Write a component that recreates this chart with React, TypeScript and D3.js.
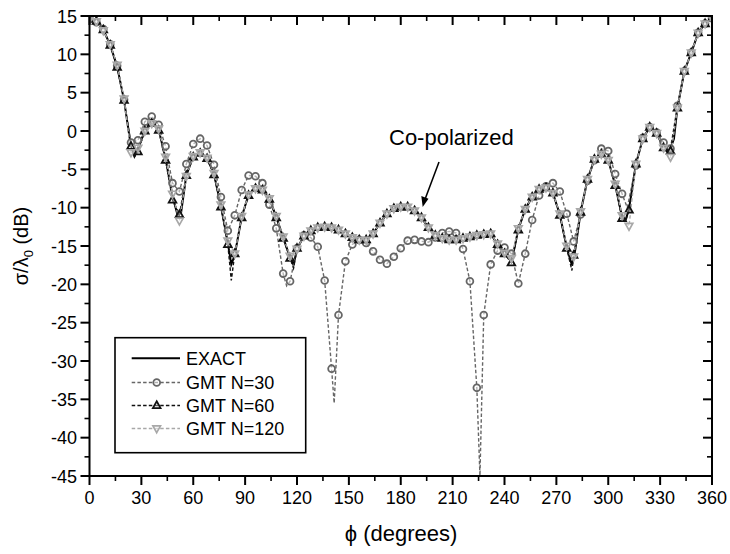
import React from "react";
import * as d3 from "d3";

// ---- data (phi in degrees, RCS in dB) ----
const EXACT_PHI = [0,4,8,12,16,20,24,26,28,32,36,40,44,48,51,53,56,60,64,68,72,76,80,82,84,88,92,96,100,104,108,112,116,118,120,124,128,132,136,140,144,148,152,156,160,164,168,172,176,180,184,188,192,196,200,204,208,212,216,220,224,228,232,236,240,244,246,248,252,256,260,264,268,272,276,279,281,284,288,292,296,300,304,308,310,312,316,320,324,328,332,335,338,340,344,348,352,356,360];
const EXACT_DB = [14.6,14.3,13.2,11.2,8.4,4.0,-2.1,-3.3,-2.4,0.1,1.0,0.2,-3.6,-8.5,-11.0,-10.6,-5.8,-3.3,-2.8,-3.6,-5.6,-9.8,-14.6,-17.4,-16.2,-11.2,-8.3,-7.5,-7.7,-8.8,-11.2,-13.9,-16.5,-17.5,-15.4,-13.7,-13.0,-12.6,-12.5,-12.6,-12.9,-13.4,-13.9,-14.2,-14.2,-13.4,-12.0,-10.8,-10.1,-9.9,-9.9,-10.4,-11.3,-12.6,-13.6,-14.0,-14.2,-14.2,-14.0,-13.8,-13.6,-13.5,-13.4,-14.8,-16.0,-17.0,-15.0,-12.8,-10.2,-8.6,-7.6,-7.4,-8.1,-10.9,-15.2,-17.5,-15.4,-10.6,-6.3,-3.7,-3.0,-3.8,-7.0,-11.2,-11.6,-10.2,-4.3,-1.0,0.5,-0.3,-2.2,-2.9,-1.0,3.0,7.8,10.2,12.8,14.0,14.7];

const N30_PHI = [0,4,8,12,16,20,24,28,32,36,40,44,48,52,56,60,64,68,72,76,80,84,88,92,96,100,104,108,112,114,116,120,124,128,132,136,140,141.5,144,148,152,156,160,164,168,172,176,180,184,188,192,196,200,204,208,212,216,220,224,225.8,228,232,236,240,244,248,252,256,260,264,268,272,276,280,284,288,292,296,300,304,308,311,316,320,324,328,332,336,340,344,348,352,356,360];
const N30_DB = [14.6,14.2,13.3,11.3,8.5,4.1,-1.5,-1.2,1.2,1.9,0.8,-2.0,-6.8,-7.9,-4.3,-1.7,-1.0,-1.9,-4.4,-8.6,-13.0,-11.0,-7.7,-5.8,-5.9,-6.8,-9.6,-12.7,-18.6,-20.2,-19.6,-15.3,-13.6,-13.9,-15.1,-19.5,-31.0,-35.5,-24.0,-17.0,-14.8,-14.2,-14.6,-15.7,-16.8,-17.3,-16.4,-15.3,-14.3,-14.2,-14.4,-14.5,-13.9,-13.3,-13.1,-13.3,-15.4,-19.6,-33.5,-45.0,-24.0,-17.4,-15.6,-15.2,-16.0,-19.9,-16.0,-11.6,-8.4,-7.2,-6.8,-7.9,-10.8,-14.4,-10.9,-6.5,-3.8,-2.3,-2.6,-5.6,-8.2,-10.0,-4.5,-0.9,0.5,-0.2,-1.5,-2.3,3.3,7.8,10.2,12.8,14.0,14.7];

const N60_PHI = [0,4,8,12,16,20,24,26,28,32,36,40,44,48,52,56,60,64,68,72,76,80,82,84,88,92,96,100,104,108,112,116,118,120,124,128,132,136,140,144,148,152,156,160,164,168,172,176,180,184,188,192,196,200,204,208,212,216,220,224,228,232,236,240,244,248,252,256,260,264,268,272,276,279,280,284,288,292,296,300,304,308,310,312,316,320,324,328,332,336,340,344,348,352,356,360];
const N60_DB = [14.6,14.3,13.2,11.2,8.3,4.0,-2.0,-3.4,-2.7,0.0,1.0,0.1,-3.8,-9.0,-10.9,-5.8,-3.4,-2.9,-3.6,-5.7,-9.9,-14.8,-19.5,-16.0,-11.3,-8.4,-7.5,-7.7,-8.9,-11.3,-14.0,-16.6,-17.9,-15.3,-13.7,-13.0,-12.6,-12.5,-12.6,-12.9,-13.4,-13.9,-14.2,-14.2,-13.4,-12.0,-10.8,-10.1,-9.9,-9.9,-10.4,-11.3,-12.6,-13.6,-14.0,-14.2,-14.2,-14.0,-13.8,-13.6,-13.5,-13.4,-14.8,-16.0,-17.2,-12.9,-10.2,-8.6,-7.6,-7.4,-8.1,-11.0,-15.3,-18.2,-16.2,-10.6,-6.3,-3.7,-3.0,-3.8,-7.1,-11.4,-11.8,-10.3,-4.3,-1.0,0.5,-0.3,-2.2,-2.6,3.0,7.8,10.2,12.8,14.0,14.7];

const N120_PHI = [0,4,8,12,16,20,24,28,32,36,40,44,48,52,56,60,64,68,72,76,80,84,88,92,96,100,104,108,112,116,120,124,128,132,136,140,144,148,152,156,160,164,168,172,176,180,184,188,192,196,200,204,208,212,216,220,224,228,232,236,240,244,248,252,256,260,264,268,272,276,280,284,288,292,296,300,304,308,312,316,320,324,328,332,336,340,344,348,352,356,360];
const N120_DB = [14.6,14.3,13.1,11.3,8.6,4.2,-2.8,-2.2,0.0,1.0,0.3,-3.4,-8.2,-11.7,-5.9,-3.3,-2.8,-3.5,-5.5,-9.6,-14.3,-16.0,-11.1,-8.3,-7.5,-7.7,-8.8,-11.1,-13.8,-16.3,-15.4,-13.7,-13.0,-12.6,-12.5,-12.6,-12.9,-13.4,-13.9,-14.2,-14.2,-13.4,-12.0,-10.8,-10.1,-9.9,-9.9,-10.4,-11.3,-12.6,-13.6,-14.0,-14.2,-14.2,-14.0,-13.8,-13.6,-13.5,-13.4,-14.7,-15.9,-16.6,-12.7,-10.2,-8.6,-7.6,-7.4,-8.1,-10.8,-15.0,-16.4,-10.5,-6.3,-3.7,-3.0,-3.8,-6.9,-11.0,-12.4,-4.3,-1.0,0.5,-0.3,-2.2,-3.4,3.0,7.8,10.2,12.8,14.0,14.7];

const X_TICKS = [0,30,60,90,120,150,180,210,240,270,300,330,360];
const Y_TICKS = [15,10,5,0,-5,-10,-15,-20,-25,-30,-35,-40,-45];
const LEGEND_LABELS = ["EXACT", "GMT N=30", "GMT N=60", "GMT N=120"];

const W = 730, H = 554;
const FONT = "'Liberation Sans', Arial, Helvetica, sans-serif";

const x = d3.scaleLinear().domain([0, 360]).range([89.5, 712]);
const y = d3.scaleLinear().domain([-45, 15]).range([476, 16]);

type Pt = [number, number];
const zip = (a: number[], b: number[]): Pt[] => a.map((v, i) => [v, b[i]]);
const line = d3.line<Pt>().x(d => x(d[0])).y(d => y(d[1]));

const circleMark = (cx: number, cy: number, k: string, color: string) => (
  <circle key={k} cx={cx} cy={cy} r={3.4} fill="white" fillOpacity={0.5} stroke={color} strokeWidth={1.8} />
);
const triUp = (cx: number, cy: number, k: string, color: string) => (
  <path key={k} d={`M${cx},${cy - 4.2}L${cx + 3.8},${cy + 2.6}L${cx - 3.8},${cy + 2.6}Z`} fill="white" fillOpacity={0.35} stroke={color} strokeWidth={1.8} />
);
const triDown = (cx: number, cy: number, k: string, color: string) => (
  <path key={k} d={`M${cx},${cy + 4.2}L${cx + 3.8},${cy - 2.6}L${cx - 3.8},${cy - 2.6}Z`} fill="white" fillOpacity={0.5} stroke={color} strokeWidth={1.7} />
);

export default function App() {
  const exact = zip(EXACT_PHI, EXACT_DB);
  const n30 = zip(N30_PHI, N30_DB);
  const n60 = zip(N60_PHI, N60_DB);
  const n120 = zip(N120_PHI, N120_DB);
  const isMark = (d: Pt) => d[0] % 4 === 0;

  const c30 = "#666666", c60 = "#111111", c120 = "#a8a8a8";
  const dash = "3.5,2.2";

  const xMinor = d3.range(15, 360, 30);
  const yMinor = d3.range(-42.5, 15, 5);

  const lx0 = 131.7, lx1 = 180, lmx = 156.7;
  const rows = [358.3, 382.5, 405.5, 428.5];

  return (
    <svg width={W} height={H} style={{ position: "absolute", left: 0, top: 0, background: "white" }} fontFamily={FONT}>
      <defs>
        <clipPath id="plotclip">
          <rect x={89.5} y={16} width={622.5} height={460} />
        </clipPath>
      </defs>

      <g clipPath="url(#plotclip)">
        <path d={line(exact) ?? ""} fill="none" stroke="black" strokeWidth={2} />
        <path d={line(n30) ?? ""} fill="none" stroke={c30} strokeWidth={1.4} strokeDasharray={dash} />
        <path d={line(n60) ?? ""} fill="none" stroke={c60} strokeWidth={1.4} strokeDasharray={dash} />
        <path d={line(n120) ?? ""} fill="none" stroke={c120} strokeWidth={1.4} strokeDasharray={dash} />
        {n30.filter(isMark).map((d, i) => circleMark(x(d[0]), y(d[1]), "c" + i, c30))}
        {n60.filter(isMark).map((d, i) => triUp(x(d[0]), y(d[1]), "t" + i, c60))}
        {n120.filter(isMark).map((d, i) => triDown(x(d[0]), y(d[1]), "v" + i, c120))}
      </g>

      {/* frame */}
      <rect x={89.5} y={16} width={622.5} height={460} fill="none" stroke="black" strokeWidth={2} />

      {/* x ticks bottom (out) and top (in) */}
      {X_TICKS.map(t => (
        <g key={"xt" + t}>
          <line x1={x(t)} x2={x(t)} y1={476} y2={485} stroke="black" strokeWidth={2} />
          <line x1={x(t)} x2={x(t)} y1={16} y2={25} stroke="black" strokeWidth={2} />
          <text x={x(t)} y={504} textAnchor="middle" fontSize={18}>{t}</text>
        </g>
      ))}
      {xMinor.map(t => (
        <g key={"xm" + t}>
          <line x1={x(t)} x2={x(t)} y1={476} y2={481} stroke="black" strokeWidth={1.6} />
          <line x1={x(t)} x2={x(t)} y1={16} y2={21} stroke="black" strokeWidth={1.6} />
        </g>
      ))}

      {/* y ticks left (out) and right (in) */}
      {Y_TICKS.map(t => (
        <g key={"yt" + t}>
          <line x1={80.5} x2={89.5} y1={y(t)} y2={y(t)} stroke="black" strokeWidth={2} />
          <line x1={703} x2={712} y1={y(t)} y2={y(t)} stroke="black" strokeWidth={2} />
          <text x={77} y={y(t) + 6.5} textAnchor="end" fontSize={18}>{t}</text>
        </g>
      ))}
      {yMinor.map(t => (
        <g key={"ym" + t}>
          <line x1={84.5} x2={89.5} y1={y(t)} y2={y(t)} stroke="black" strokeWidth={1.6} />
          <line x1={707} x2={712} y1={y(t)} y2={y(t)} stroke="black" strokeWidth={1.6} />
        </g>
      ))}

      {/* axis titles */}
      <text x={401} y={541} textAnchor="middle" fontSize={22}>
        <tspan>ϕ</tspan> (degrees)
      </text>
      <text transform="translate(28,246) rotate(-90)" textAnchor="middle" fontSize={20}>
        σ/λ<tspan fontSize={13} dy={5}>0</tspan><tspan dy={-5}> (dB)</tspan>
      </text>

      {/* annotation */}
      <text x={389} y={145} fontSize={22}>Co-polarized</text>
      <line x1={439} y1={162} x2={425.5} y2={198} stroke="black" strokeWidth={1.6} />
      <path d="M422.7,207 L421.3,196 L428.5,198.7 Z" fill="black" />

      {/* legend */}
      <rect x={115} y={337.7} width={190.7} height={115} fill="white" stroke="black" strokeWidth={1.6} />
      <line x1={lx0} x2={lx1} y1={rows[0]} y2={rows[0]} stroke="black" strokeWidth={2} />
      <line x1={lx0} x2={lx1} y1={rows[1]} y2={rows[1]} stroke={c30} strokeWidth={1.4} strokeDasharray={dash} />
      {circleMark(lmx, rows[1], "lc", c30)}
      <line x1={lx0} x2={lx1} y1={rows[2]} y2={rows[2]} stroke={c60} strokeWidth={1.4} strokeDasharray={dash} />
      {triUp(lmx, rows[2], "lt", c60)}
      <line x1={lx0} x2={lx1} y1={rows[3]} y2={rows[3]} stroke={c120} strokeWidth={1.4} strokeDasharray={dash} />
      {triDown(lmx, rows[3], "lv", c120)}
      {LEGEND_LABELS.map((l, i) => (
        <text key={l} x={186} y={rows[i] + 6.5} fontSize={18}>{l}</text>
      ))}
    </svg>
  );
}
